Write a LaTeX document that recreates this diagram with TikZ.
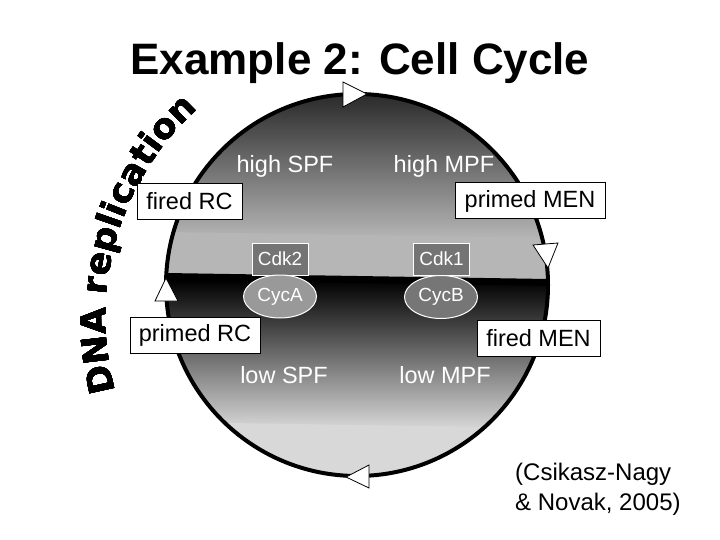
\documentclass[tikz,border=0pt]{standalone}
\usepackage{fontspec}
\setmainfont{Liberation Sans}
\newfontfamily\dnafont{DejaVu Sans}
\usetikzlibrary{decorations.text,shapes.geometric}
\definecolor{gtop}{HTML}{1E1E1E}
\definecolor{gmid}{HTML}{B6B6B6}
\definecolor{gbot}{HTML}{D8D8D8}
\definecolor{cdkgray}{HTML}{747474}
\definecolor{cycagray}{HTML}{999999}
\definecolor{cycbgray}{HTML}{767676}
\begin{document}
\begin{tikzpicture}[x=1pt,y=-1pt,
  lbl/.style={font=\fontsize{23.5}{28}\selectfont, text=white, anchor=base, inner sep=0pt},
  box/.style={draw=black, line width=1pt, fill=white, font=\fontsize{23.5}{28}\selectfont, inner sep=0pt, minimum height=36pt},
  cdk/.style={draw=white, line width=1pt, fill=cdkgray, text=white, font=\fontsize{19}{22}\selectfont, inner sep=0pt, minimum width=56pt, minimum height=32pt},
  cyc/.style={ellipse, draw=white, line width=1pt, text=white, font=\fontsize{19}{22}\selectfont, inner sep=0pt, minimum width=73pt, minimum height=43pt},
  tri/.style={draw=black, line width=0.8pt, fill=white, line join=miter},
  cite/.style={font=\fontsize{24}{30}\selectfont, anchor=base west, inner sep=0pt},
  dnatext/.style={decorate, decoration={text along path, text align=left,
    text format delimiters={|}{|},
    text={|\dnafont\bfseries\fontsize{35}{35}\selectfont|DNA replication}}}]

\useasboundingbox (0,0) rectangle (720,540);
\fill[white] (0,0) rectangle (720,540);

\node[font=\bfseries\fontsize{44}{50}\selectfont, anchor=base] (title) at (360,75) {Example 2: Cell Cycle};

\coordinate (c) at (357,285);
\begin{scope}
  \clip (c) circle[radius=191];
  \begin{scope}[rotate around={-0.9:(357,276)}]
    \shade[top color=gtop, bottom color=gmid] (150,85) rectangle (565,236);
    \fill[gmid] (150,235) rectangle (565,276.5);
    \fill[black] (150,276) rectangle (565,284);
    \shade[top color=black, bottom color=gbot] (150,283) rectangle (565,426);
    \fill[gbot] (150,425) rectangle (565,487);
  \end{scope}
\end{scope}
\draw[line width=4pt] (c) circle[radius=191];

\draw[tri] (343,82) -- (343,107) -- (367,94) -- cycle;
\draw[tri] (533,245) -- (558,243) -- (548,268) -- cycle;
\draw[tri] (155,301) -- (178,301) -- (166,278) -- cycle;
\draw[tri] (369,465) -- (369,488) -- (346,477) -- cycle;

\coordinate (dnac) at (386,317);
\foreach \dx/\dy in {0/0, 0.8/0, -0.8/0, 0/0.8, 0/-0.8, 0.55/0.55, -0.55/-0.55, 0.55/-0.55, -0.55/0.55}{
  \path[dnatext, shift={(\dx,\dy)}]
    (dnac) ++(164.5:280) arc[start angle=164.5, end angle=240, radius=280];
}

\node[lbl] (hspf) at (285,173) {high SPF};
\node[lbl] (hmpf) at (444,173) {high MPF};
\node[lbl] (lspf) at (284,383) {low SPF};
\node[lbl] (lmpf) at (445,383) {low MPF};

\node[box, minimum width=105pt] (firedrc) at (189.5,201.5) {fired RC};
\node[box, minimum width=150pt] (primedmen) at (530,201) {primed MEN};
\node[box, minimum width=130pt] (primedrc) at (195,335) {primed RC};
\node[box, minimum width=123pt] (firedmen) at (538.5,338.5) {fired MEN};

\node[cdk] (cdk2) at (280,259) {Cdk2};
\node[cdk] (cdk1) at (441.5,259) {Cdk1};
\node[cyc, fill=cycagray] (cyca) at (280,296.5) {CycA};
\node[cyc, fill=cycbgray] (cycb) at (441,297) {CycB};

\node[cite] (cite1) at (515,480) {(Csikasz-Nagy};
\node[cite] (cite2) at (515,510) {\& Novak, 2005)};
\end{tikzpicture}
\end{document}
